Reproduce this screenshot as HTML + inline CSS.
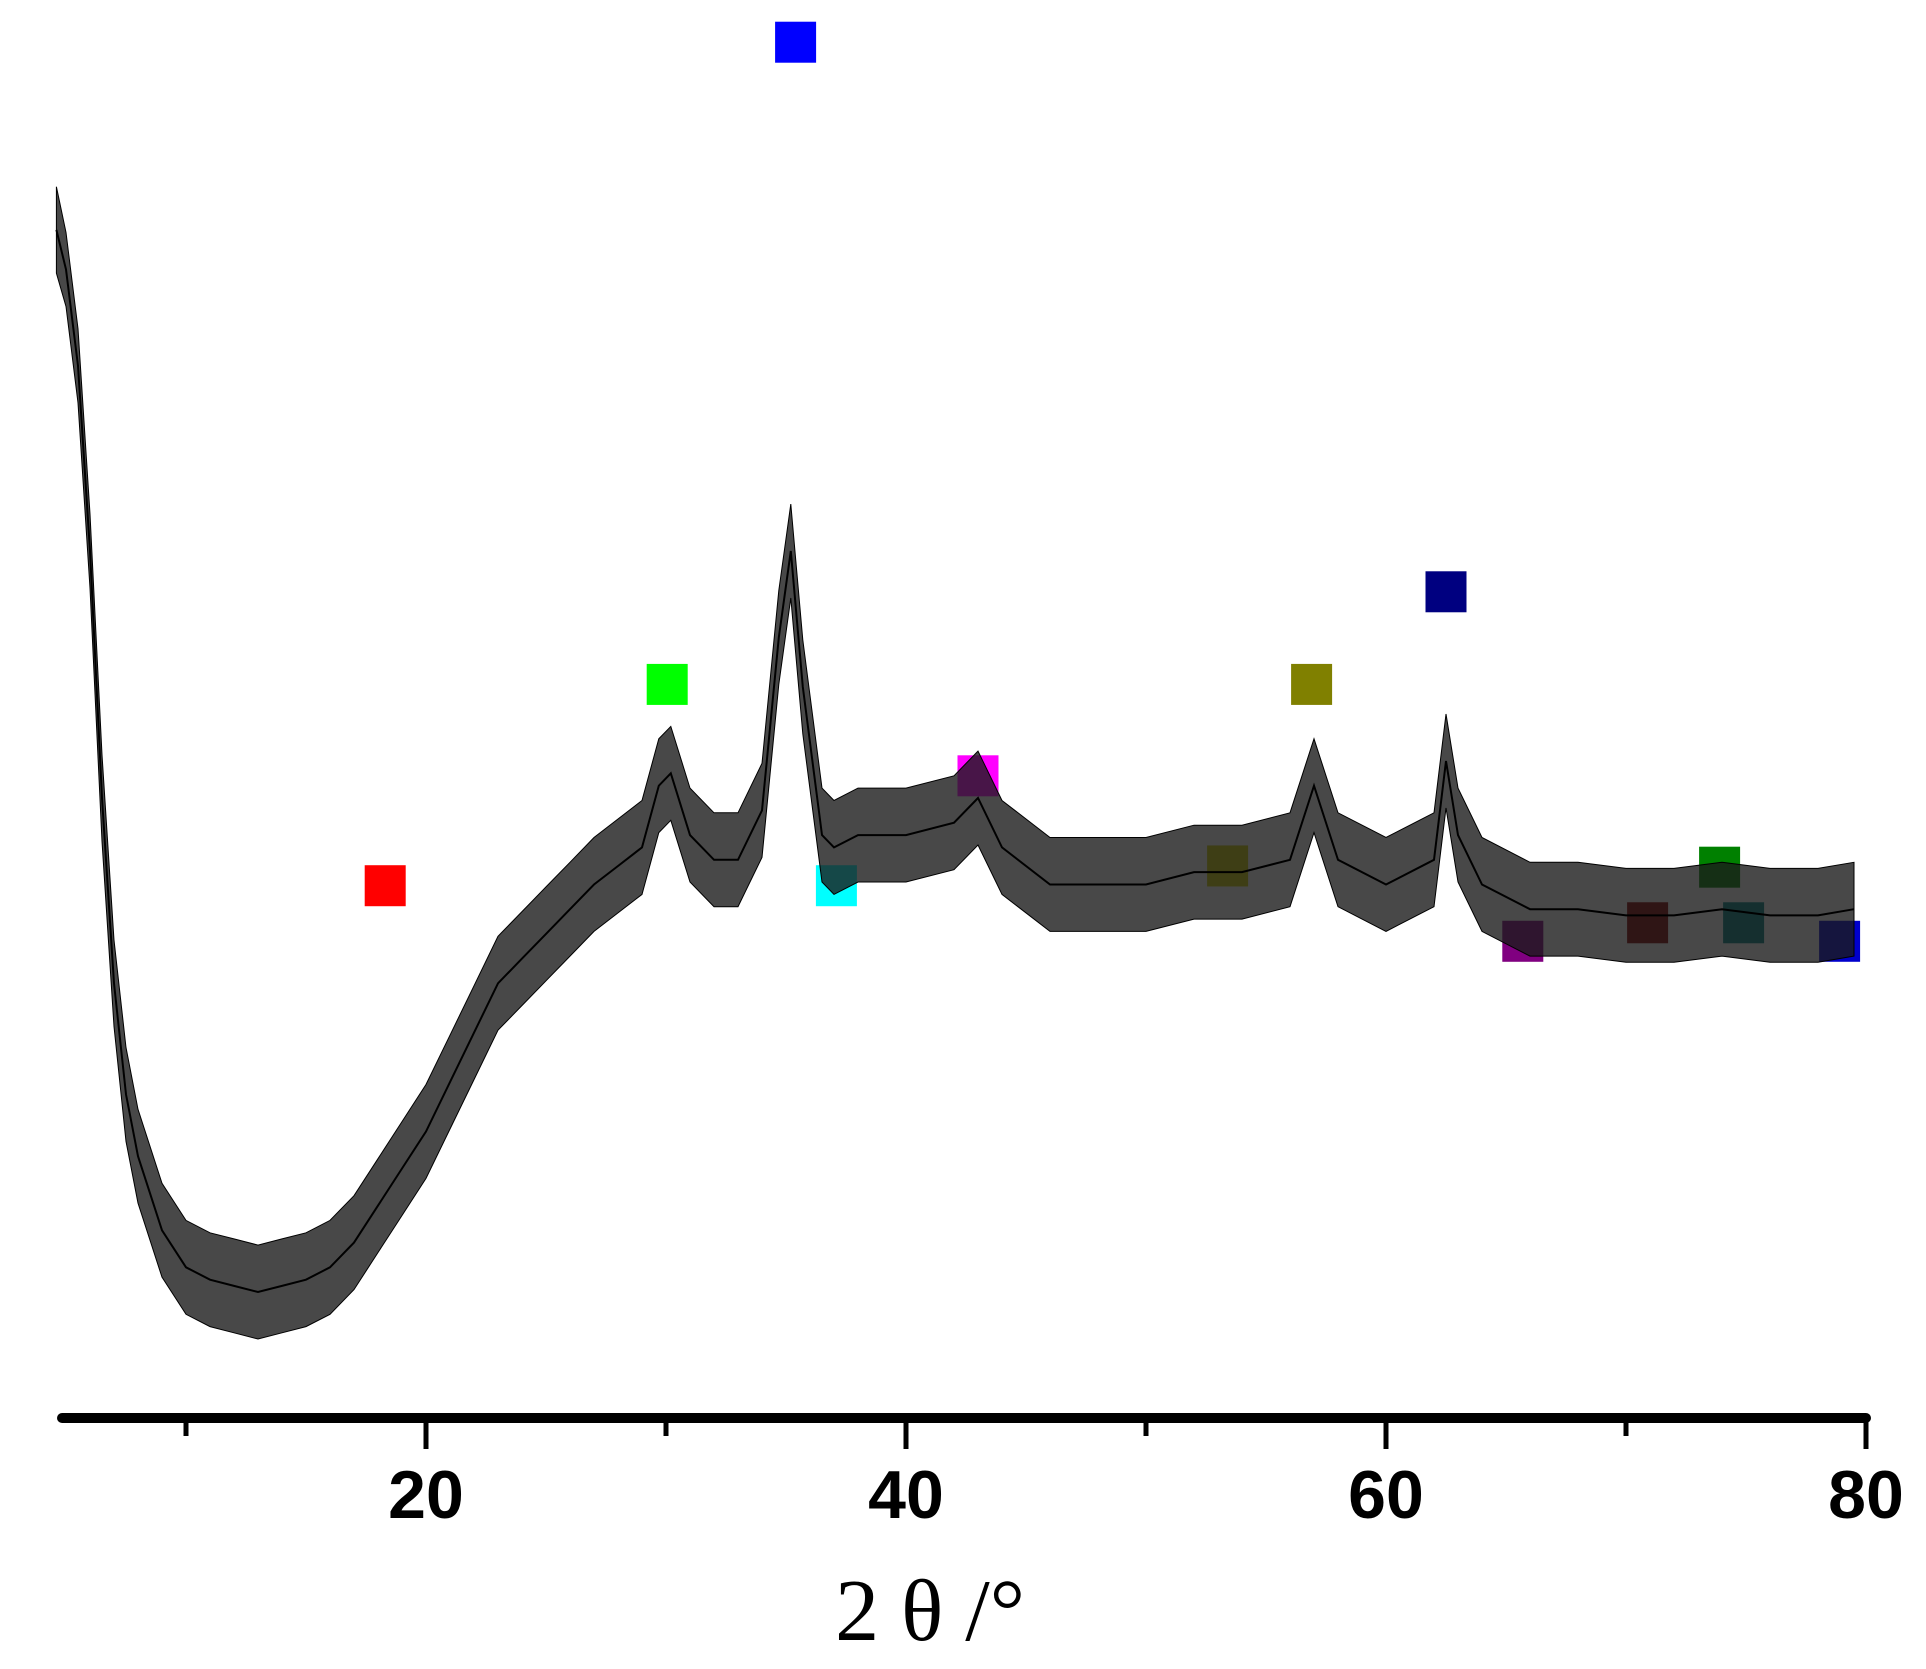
<!DOCTYPE html>
<html><head><meta charset="utf-8"><style>
html,body{margin:0;padding:0;background:#fff;}
svg{display:block;}
</style></head><body>
<svg id="chart" width="1926" height="1669" viewBox="0 0 1926 1669" xmlns="http://www.w3.org/2000/svg">
<rect width="1926" height="1669" fill="#fff"/>
<g id="markers"></g>
<g id="trace"></g>
<g id="axis"></g>
<text x="930" y="1640" font-family="'Liberation Serif','DejaVu Serif',serif" font-size="88" text-anchor="middle" fill="#000">2 θ /°</text>
</svg>
<script>
const twoTheta = [4.6,5,5.5,6,6.5,7,7.5,8,9,10,11,12,13,14,15,16,17,18,19,20,21,22,23,24,25,26,27,28,29,29.7,30.2,31,32,33,34,34.7,35.2,35.7,36.5,37,38,40,42,43,44,46,48,50,52,54,56,57,58,60,62,62.5,63,64,66,68,70,72,74,76,78,79.5];
const intensity = [962,930,852,702,502,352,262,212,152,122,112,107,102,107,112,122,142,172,202,232,272,312,352,372,392,412,432,447,462,512,522,472,452,452,492,632,702,592,472,462,472,472,482,502,462,432,432,432,442,442,452,512,452,432,452,532,472,432,412,412,407,407,412,407,407,412];
const noise = [35,30,30,30,35,35,38,38,38,38,38,38,38,38,38,38,38,38,38,38,38,38,38,38,38,38,38,38,38,38,38,38,38,38,38,38,38,38,38,38,38,38,38,38,38,38,38,38,38,38,38,38,38,38,38,38,38,38,38,38,38,38,38,38,38,38];
const markerX = [18.3,30.05,35.4,37.1,43.0,53.4,56.9,62.5,65.7,70.9,73.9,74.9,78.9];
const markerY = [431,594,1114,431,520,447,594,669,386,401,446,401,386];
const markerColors = ['#ff0000','#00ff00','#0000ff','#00ffff','#ff00ff','#cccc00','#808000','#000080','#800080','#800000','#008000','#008080','#0000cc'];
const xTicks = [10,20,30,40,50,60,70,80];
const xLabels = ['20','40','60','80'];

const NS='http://www.w3.org/2000/svg';
function sx(v){return 426+(v-20)*24.0;}
function sy(v){return 1418-v*1.235;}
function mk(t,a,p){const e=document.createElementNS(NS,t);for(const k in a)e.setAttribute(k,a[k]);p.appendChild(e);return e;}

const mg=document.getElementById('markers');
markerX.forEach((v,i)=>{
  const r=mk('rect',{x:sx(v)-20.5,y:sy(markerY[i])-20.5,width:41,height:41,fill:markerColors[i]},mg);
  
  
});

const tg=document.getElementById('trace');
let up=[],lo=[],mid=[];
twoTheta.forEach((v,i)=>{
  up.push(sx(v).toFixed(1)+','+sy(intensity[i]+noise[i]).toFixed(1));
  lo.unshift(sx(v).toFixed(1)+','+sy(intensity[i]-noise[i]).toFixed(1));
  mid.push(sx(v).toFixed(1)+','+sy(intensity[i]).toFixed(1));
});
const band=mk('polygon',{points:up.concat(lo).join(' '),fill:'#1a1a1a','fill-opacity':'0.8',stroke:'#000','stroke-width':'1'},tg);


const line=mk('polyline',{points:mid.join(' '),fill:'none',stroke:'#000','stroke-width':'2'},tg);



const ag=document.getElementById('axis');
const al=mk('line',{x1:62,y1:1418,x2:sx(80),y2:1418,stroke:'#000','stroke-width':'10','stroke-linecap':'round'},ag);


xTicks.forEach(v=>{
  const major=v%20===0;
  const t=mk('line',{x1:sx(v),y1:1418,x2:sx(v),y2:major?1449:1436,stroke:'#000','stroke-width':'5'},ag);
  
  
});
xLabels.forEach(s=>{
  const t=mk('text',{x:sx(+s),y:1518,'text-anchor':'middle','font-family':"'Liberation Sans',sans-serif",'font-size':'68','font-weight':'bold',fill:'#000'},ag);
  t.textContent=s;
  
  
});
</script>
</body></html>
